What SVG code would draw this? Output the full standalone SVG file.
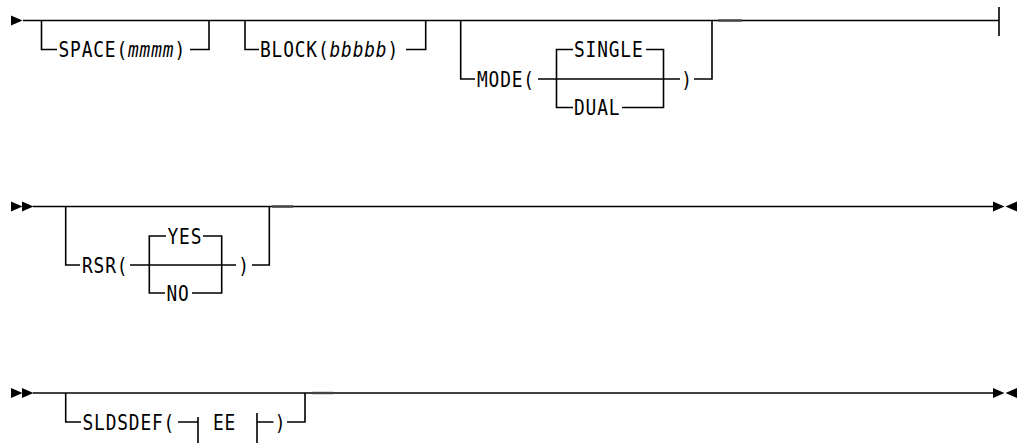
<svg xmlns="http://www.w3.org/2000/svg" xmlns:xlink="http://www.w3.org/1999/xlink" width="1020" height="443" viewBox="0 0 1020 443">
<style>
  .ln { stroke: #000; stroke-width: 1.6; fill: none; }
  .dash { stroke: #444; stroke-width: 2.4; fill: none; }
  .t { font-family: "DejaVu Sans Mono", "Liberation Mono", monospace; font-size: 21px; letter-spacing: 1px; fill: #000; }
  .i { font-style: italic; }
  .mid { text-anchor: middle; }
  .ar { fill: #000; }
</style>
<defs>
  <path id="tri" d="M0,-5 L11.5,0 L0,5 Z"/>
</defs>

<g id="connectors">
  <!-- row 1 -->
  <path class="ln" d="M23,20.5 H999 M999,7 V36"/>
  <path class="ln" d="M41.5,20.5 V49.5 H57 M190,49.5 H209 V20.5"/>
  <path class="ln" d="M245,20.5 V49.5 H259 M406,49.5 H425.7 V20.5"/>
  <path class="ln" d="M460.7,20.5 V79 H475 M538,79 H680 M694,79 H712 V20.5"/>
  <path class="ln" d="M556.5,79 V49.5 H573 M646,49.5 H663.5 V107.5 H622 M556.5,79 V107.5 H573"/>
  <path class="dash" d="M718,20.5 H742"/>
  <!-- row 2 -->
  <path class="ln" d="M33,206.5 H993"/>
  <path class="ln" d="M65.7,206.5 V265 H80 M130,265 H236 M252,265 H269.3 V206.5"/>
  <path class="ln" d="M149.3,265 V236 H166 M203,236 H221.7 V293 H192 M149.3,265 V293 H165"/>
  <path class="dash" d="M272,206.5 H293"/>
  <!-- row 3 -->
  <path class="ln" d="M33,393 H993"/>
  <path class="ln" d="M65.7,393 V422 H81 M178,422 H198 M198,417 V443 M257,413 V443 M257,422 H273.5 M287,422 H305 V393"/>
  <path class="dash" d="M312,393 H333"/>
</g>

<g id="row1-start"><use href="#tri" class="ar" transform="translate(11,20.5)"/></g>
<g id="node-space"><text class="t" transform="translate(58.5,57.2) scale(0.85,1)">SPACE(<tspan class="i">mmmm</tspan>)</text></g>
<g id="node-block"><text class="t" transform="translate(260,57.2) scale(0.85,1)">BLOCK(<tspan class="i">bbbbb</tspan>)</text></g>
<g id="node-mode">
  <text class="t" transform="translate(477,86.7) scale(0.85,1)">MODE(</text>
  <text class="t mid" transform="translate(687,86.7) scale(0.85,1)">)</text>
</g>
<g id="node-single"><text class="t" transform="translate(574,57.2) scale(0.85,1)">SINGLE</text></g>
<g id="node-dual"><text class="t" transform="translate(574,115.2) scale(0.85,1)">DUAL</text></g>

<g id="row2-start">
  <use href="#tri" class="ar" transform="translate(11,206.5)"/>
  <use href="#tri" class="ar" transform="translate(22,206.5)"/>
</g>
<g id="node-rsr">
  <text class="t" transform="translate(82,272.7) scale(0.85,1)">RSR(</text>
  <text class="t mid" transform="translate(244,272.7) scale(0.85,1)">)</text>
</g>
<g id="node-yes"><text class="t" transform="translate(167.5,243.7) scale(0.85,1)">YES</text></g>
<g id="node-no"><text class="t" transform="translate(166.5,300.7) scale(0.85,1)">NO</text></g>
<g id="row2-end">
  <use href="#tri" class="ar" transform="translate(993,206.5)"/>
  <use href="#tri" class="ar" transform="translate(1017,206.5) scale(-1,1)"/>
</g>

<g id="row3-start">
  <use href="#tri" class="ar" transform="translate(11,393)"/>
  <use href="#tri" class="ar" transform="translate(22,393)"/>
</g>
<g id="node-sldsdef">
  <text class="t" transform="translate(82.5,429.7) scale(0.85,1)">SLDSDEF(</text>
  <text class="t mid" transform="translate(280.5,429.7) scale(0.85,1)">)</text>
</g>
<g id="node-ee"><text class="t" transform="translate(213,429.7) scale(0.85,1)">EE</text></g>
<g id="row3-end">
  <use href="#tri" class="ar" transform="translate(993,393)"/>
  <use href="#tri" class="ar" transform="translate(1017,393) scale(-1,1)"/>
</g>
</svg>
